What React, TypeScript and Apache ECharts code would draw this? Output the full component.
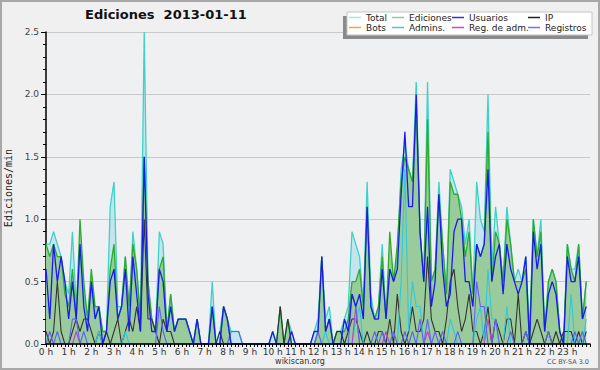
import React, { useEffect, useRef } from 'react';
import * as echarts from 'echarts';

// 10-minute bins, 144 per day (edits per minute)
const total = [
  0.8, 0.8, 0.9, 0.8, 0.7, 0.5,
  0.4, 0.9, 0.3, 0.8, 0.4, 0.2,
  0.5, 0.2, 0.3, 0.1, 0.1, 1.1,
  1.3, 0.3, 0.3, 0.7, 0.2, 0.9,
  0.6, 0.2, 2.5, 0.5, 0.2, 0.1,
  0.9, 0.8, 0.1, 0.4, 0.1, 0.2,
  0.2, 0.2, 0.1, 0.0, 0.2, 0.0,
  0.0, 0.0, 0.5, 0.0, 0.1, 0.3,
  0.2, 0.1, 0.1, 0.1, 0.0, 0.0,
  0.0, 0.0, 0.0, 0.0, 0.0, 0.0,
  0.1, 0.0, 0.3, 0.0, 0.2, 0.1,
  0.0, 0.0, 0.0, 0.0, 0.0, 0.1,
  0.2, 0.7, 0.2, 0.3, 0.0, 0.1,
  0.1, 0.2, 0.3, 0.9, 0.8, 0.7,
  0.3, 1.3, 0.4, 0.2, 0.3, 0.8,
  0.2, 0.6, 0.5, 0.7, 1.4, 1.6,
  1.4, 1.3, 2.1, 0.9, 0.5, 2.1,
  0.5, 0.6, 1.3, 0.8, 0.4, 1.4,
  1.3, 1.2, 1.1, 0.8, 1.0, 0.4,
  1.3, 1.0, 0.9, 2.0, 0.6, 1.1,
  0.8, 0.5, 1.1, 0.8, 0.5, 0.6,
  0.5, 0.7, 0.1, 1.0, 0.7, 1.0,
  0.1, 0.5, 0.6, 0.5, 0.1, 0.0,
  0.8, 0.6, 0.6, 0.8, 0.2, 0.5,
];

const ediciones = [
  0.8, 0.7, 0.8, 0.7, 0.7, 0.4,
  0.3, 0.6, 0.2, 1.0, 0.5, 0.2,
  0.6, 0.3, 0.3, 0.1, 0.1, 0.6,
  0.8, 0.2, 0.3, 0.7, 0.3, 0.8,
  0.6, 0.2, 1.5, 0.5, 0.2, 0.1,
  0.6, 0.7, 0.1, 0.4, 0.1, 0.2,
  0.2, 0.2, 0.1, 0.0, 0.2, 0.0,
  0.0, 0.0, 0.3, 0.0, 0.0, 0.3,
  0.2, 0.0, 0.0, 0.0, 0.0, 0.0,
  0.0, 0.0, 0.0, 0.0, 0.0, 0.0,
  0.0, 0.0, 0.3, 0.0, 0.2, 0.0,
  0.0, 0.0, 0.0, 0.0, 0.0, 0.0,
  0.1, 0.7, 0.1, 0.2, 0.0, 0.1,
  0.1, 0.1, 0.2, 0.5, 0.5, 0.6,
  0.3, 1.1, 0.3, 0.2, 0.3, 0.7,
  0.2, 0.9, 0.5, 0.8, 1.3, 1.5,
  1.4, 1.3, 1.9, 0.9, 0.5, 1.8,
  0.5, 0.6, 1.2, 0.8, 0.4, 1.3,
  1.2, 1.2, 1.0, 0.7, 0.9, 0.4,
  0.8, 0.7, 0.8, 1.7, 0.5, 0.9,
  0.8, 0.5, 1.0, 0.8, 0.5, 0.5,
  0.5, 0.6, 0.0, 1.0, 0.7, 0.9,
  0.1, 0.5, 0.6, 0.5, 0.1, 0.0,
  0.8, 0.6, 0.5, 0.8, 0.2, 0.5,
];

const usuarios = [
  0.6, 0.2, 0.8, 0.5, 0.7, 0.5,
  0.2, 0.5, 0.2, 0.8, 0.3, 0.1,
  0.5, 0.2, 0.3, 0.0, 0.1, 0.5,
  0.6, 0.2, 0.3, 0.6, 0.1, 0.7,
  0.4, 0.1, 1.5, 0.4, 0.1, 0.1,
  0.6, 0.5, 0.1, 0.3, 0.1, 0.2,
  0.2, 0.2, 0.1, 0.0, 0.2, 0.0,
  0.0, 0.0, 0.3, 0.0, 0.0, 0.3,
  0.2, 0.0, 0.0, 0.0, 0.0, 0.0,
  0.0, 0.0, 0.0, 0.0, 0.0, 0.0,
  0.1, 0.0, 0.0, 0.0, 0.0, 0.1,
  0.0, 0.0, 0.0, 0.0, 0.0, 0.1,
  0.1, 0.7, 0.1, 0.2, 0.0, 0.0,
  0.0, 0.2, 0.1, 0.4, 0.3, 0.4,
  0.2, 1.1, 0.3, 0.2, 0.2, 0.6,
  0.2, 0.6, 0.5, 0.6, 1.2, 1.7,
  1.1, 1.1, 2.0, 0.9, 0.5, 1.1,
  0.3, 0.5, 1.2, 0.6, 0.3, 0.4,
  0.9, 1.0, 1.0, 0.5, 0.5, 0.3,
  0.8, 0.7, 0.8, 1.4, 0.5, 0.7,
  0.8, 0.4, 0.8, 0.6, 0.5, 0.4,
  0.5, 0.7, 0.0, 0.9, 0.6, 0.8,
  0.1, 0.4, 0.5, 0.4, 0.1, 0.0,
  0.7, 0.5, 0.5, 0.7, 0.2, 0.3,
];

const ip = [
  0.1, 0.0, 0.1, 0.5, 0.1, 0.0,
  0.0, 0.1, 0.2, 0.1, 0.2, 0.2,
  0.1, 0.0, 0.1, 0.0, 0.1, 0.0,
  0.1, 0.2, 0.0, 0.1, 0.2, 0.1,
  0.3, 0.1, 1.0, 0.2, 0.2, 0.1,
  0.0, 0.2, 0.1, 0.1, 0.0, 0.0,
  0.0, 0.0, 0.0, 0.0, 0.0, 0.0,
  0.0, 0.0, 0.0, 0.0, 0.1, 0.0,
  0.0, 0.0, 0.0, 0.0, 0.0, 0.0,
  0.0, 0.0, 0.0, 0.0, 0.0, 0.0,
  0.0, 0.0, 0.3, 0.0, 0.2, 0.0,
  0.0, 0.0, 0.0, 0.0, 0.0, 0.0,
  0.0, 0.0, 0.0, 0.0, 0.0, 0.1,
  0.1, 0.0, 0.1, 0.2, 0.2, 0.1,
  0.0, 0.1, 0.0, 0.0, 0.1, 0.1,
  0.0, 0.2, 0.0, 0.4, 0.1, 0.0,
  0.1, 0.3, 0.1, 0.1, 0.2, 0.7,
  0.2, 0.1, 0.1, 0.0, 0.2, 0.5,
  0.6, 0.3, 0.1, 0.2, 0.4, 0.1,
  0.1, 0.0, 0.1, 0.3, 0.0, 0.2,
  0.1, 0.0, 0.2, 0.2, 0.0, 0.4,
  0.0, 0.1, 0.0, 0.1, 0.2, 0.1,
  0.0, 0.1, 0.0, 0.1, 0.0, 0.1,
  0.1, 0.1, 0.0, 0.1, 0.0, 0.1,
];

const bots = new Array(144).fill(0);

const admins = [
  0, 0, 0, 0, 0, 0,
  0, 0, 0, 0, 0, 0,
  0, 0, 0.1, 0, 0, 0,
  0, 0, 0, 0.1, 0, 0,
  0, 0, 0, 0, 0, 0,
  0, 0, 0, 0, 0, 0,
  0, 0, 0, 0, 0, 0,
  0, 0, 0, 0, 0, 0,
  0, 0, 0, 0, 0, 0,
  0, 0, 0, 0, 0, 0,
  0, 0, 0, 0, 0, 0,
  0, 0, 0, 0, 0, 0,
  0, 0, 0.1, 0, 0, 0,
  0, 0, 0, 0, 0.2, 0.3,
  0, 0, 0, 0, 0, 0,
  0, 0, 0, 0, 0.5, 1.4,
  0.1, 0.5, 0.3, 0.3, 0, 0,
  0, 0, 0, 0, 0, 0.2,
  0.1, 0, 0, 0, 0, 0,
  0.2, 0.3, 0, 0.6, 0.2, 0.2,
  0, 0, 0.3, 0, 0, 0,
  0, 0, 0, 0, 0, 0,
  0, 0, 0, 0, 0, 0,
  0, 0.4, 0, 0, 0, 0.2,
];

const regAdm = [
  0, 0, 0, 0, 0, 0,
  0, 0, 0.1, 0, 0, 0,
  0, 0, 0, 0, 0, 0,
  0, 0, 0, 0, 0, 0,
  0, 0, 0, 0, 0, 0,
  0, 0, 0, 0, 0, 0,
  0, 0, 0, 0, 0, 0,
  0, 0, 0, 0, 0, 0,
  0, 0, 0, 0, 0, 0,
  0, 0, 0, 0, 0, 0,
  0, 0, 0, 0, 0, 0,
  0, 0, 0, 0, 0, 0,
  0, 0, 0, 0, 0, 0,
  0, 0, 0, 0, 0.3, 0,
  0, 0, 0, 0, 0, 0,
  0.1, 0, 0, 0, 0, 0,
  0, 0, 0, 0, 0, 0.1,
  0, 0, 0, 0, 0, 0,
  0, 0, 0, 0, 0, 0,
  0, 0, 0, 0.2, 0, 0,
  0, 0, 0, 0, 0, 0,
  0, 0, 0, 0, 0, 0,
  0, 0, 0, 0, 0, 0,
  0, 0, 0, 0, 0, 0,
];

const registros = [
  0, 0.1, 0, 0.1, 0, 0,
  0, 0.2, 0.2, 0, 0.1, 0,
  0, 0, 0, 0, 0, 0,
  0, 0, 0, 0, 0, 0,
  0, 0, 0, 0, 0, 0,
  0.3, 0.1, 0, 0, 0, 0,
  0, 0, 0, 0, 0, 0,
  0, 0, 0, 0, 0, 0,
  0, 0.1, 0.1, 0.1, 0, 0,
  0, 0, 0, 0, 0, 0,
  0, 0, 0, 0, 0, 0,
  0, 0, 0, 0, 0, 0,
  0.1, 0, 0, 0, 0, 0,
  0, 0, 0, 0.4, 0.3, 0,
  0, 0, 0, 0.1, 0, 0.1,
  0, 0, 0.1, 0, 0, 0.1,
  0, 0.1, 0, 0.2, 0, 0.2,
  0, 0.1, 0, 0.1, 0, 0,
  0, 0.1, 0, 0, 0, 0,
  0.5, 0.3, 0.3, 0, 0, 0.2,
  0, 0, 0, 0.1, 0, 0,
  0, 0.1, 0, 0, 0, 0,
  0, 0.1, 0, 0, 0, 0,
  0, 0, 0.1, 0, 0.1, 0,
];

const hourTickLabels = Array.from({ length: 24 }, (_, h) => `${h} h`);
const yTickLabels = ['0.0', '0.5', '1.0', '1.5', '2.0', '2.5'];

const BIN_MINUTES = 10;
const toPairs = (arr: number[]) => arr.map((v, i) => [i * BIN_MINUTES, v]);

const FONT = '"DejaVu Sans", Verdana, sans-serif';

export default function App() {
  const ref = useRef<HTMLDivElement>(null);

  useEffect(() => {
    if (!ref.current) return;
    const chart = echarts.init(ref.current, undefined, { renderer: 'svg' });

    const mk = (name: string, data: number[], color: string, width: number, area?: string) => ({
      name,
      type: 'line',
      data: toPairs(data),
      showSymbol: false,
      symbol: 'none',
      silent: true,
      lineStyle: { color, width },
      itemStyle: { color },
      areaStyle: area ? { color: area, opacity: 1 } : undefined,
      emphasis: { disabled: true },
    });

    const legendItems = [
      { name: 'Total', color: '#a8e2ea', x: 349, y: 13 },
      { name: 'Ediciones', color: '#88d088', x: 392, y: 13 },
      { name: 'Usuarios', color: '#3333e6', x: 452, y: 13 },
      { name: 'IP', color: '#222222', x: 528, y: 13 },
      { name: 'Bots', color: '#ffa030', x: 349, y: 23 },
      { name: 'Admins.', color: '#40c8e0', x: 392, y: 23 },
      { name: 'Reg. de adm.', color: '#d040e0', x: 452, y: 23 },
      { name: 'Registros', color: '#7070ff', x: 528, y: 23 },
    ];

    const option: any = {
      animation: false,
      backgroundColor: '#f0f0f0',
      textStyle: { fontFamily: FONT },
      title: {
        text: 'Ediciones  2013-01-11',
        left: 85,
        top: 8,
        padding: 0,
        textStyle: { fontSize: 13, fontWeight: 'bold', fontFamily: FONT, color: '#111' },
      },
      legend: legendItems.map((it) => ({
        show: true,
        left: it.x,
        top: it.y,
        padding: 0,
        itemWidth: 12,
        itemHeight: 1.5,
        icon: 'rect',
        selectedMode: false,
        data: [{ name: it.name, itemStyle: { color: it.color } }],
        textStyle: { fontSize: 9, color: '#222', fontFamily: FONT },
        z: 6,
      })),
      grid: {
        left: 46,
        right: 10,
        top: 32,
        bottom: 26,
        show: true,
        backgroundColor: '#eef0f2',
        borderWidth: 0,
        outerBoundsMode: 'none',
      },
      xAxis: {
        type: 'value',
        min: 0,
        max: 1440,
        interval: 60,
        z: 10,
        axisLine: { show: true, lineStyle: { color: '#000', width: 1.5 } },
        axisTick: { show: true, length: 3, lineStyle: { color: '#000' } },
        minorTick: { show: true, splitNumber: 6, length: 3, lineStyle: { color: '#000' } },
        splitLine: { show: false },
        axisLabel: {
          formatter: (v: number) => hourTickLabels[Math.round(v / 60)] ?? '',
          showMaxLabel: false,
          fontSize: 9,
          lineHeight: 10,
          color: '#333',
          margin: 3,
          fontFamily: FONT,
        },
      },
      yAxis: {
        type: 'value',
        min: 0,
        max: 2.5,
        interval: 0.5,
        name: 'Ediciones/min',
        nameLocation: 'middle',
        nameRotate: 90,
        nameGap: 31,
        nameTextStyle: { fontFamily: '"DejaVu Sans Mono", monospace', fontSize: 10, color: '#222' },
        axisLine: { show: true, lineStyle: { color: '#000', width: 1.5 } },
        axisTick: { show: true, length: 5, lineStyle: { color: '#000' } },
        minorTick: { show: true, splitNumber: 5, length: 3, lineStyle: { color: '#000' } },
        splitLine: { show: true, lineStyle: { color: '#c9c9c9', width: 1 } },
        axisLabel: {
          formatter: (v: number) => yTickLabels[Math.round(v / 0.5)] ?? '',
          fontSize: 9,
          lineHeight: 9,
          color: '#444',
          margin: 7,
          fontFamily: FONT,
        },
      },
      series: [
        mk('Total', total, '#3ed2c6', 1.3, 'rgba(170,222,235,0.6)'),
        mk('Ediciones', ediciones, '#2eaa2e', 1.3, '#9acb9a'),
        mk('IP', ip, '#333333', 1.1),
        mk('Bots', bots, '#ffa030', 1),
        mk('Admins.', admins, '#30c8e0', 1.1),
        mk('Reg. de adm.', regAdm, '#c040d0', 1.1),
        mk('Registros', registros, '#6060f8', 1.1),
        mk('Usuarios', usuarios, '#1a1aee', 1.3),
      ],
      graphic: [
        { type: 'rect', z: 3, shape: { x: 343, y: 16, width: 245, height: 23 }, style: { fill: '#8a8a8a' }, silent: true },
        { type: 'rect', z: 3, shape: { x: 347, y: 12, width: 245, height: 23 }, style: { fill: '#ffffff', stroke: '#c4c4c4', lineWidth: 1 }, silent: true },
        {
          type: 'text', z: 5, x: 300, y: 361,
          style: { text: 'wikiscan.org', align: 'center', verticalAlign: 'middle', textAlign: 'center', textVerticalAlign: 'middle', font: `8px ${FONT}`, fill: '#333' },
          silent: true,
        },
        {
          type: 'text', z: 5, x: 589, y: 362,
          style: { text: 'CC BY-SA 3.0', align: 'right', verticalAlign: 'middle', textAlign: 'right', textVerticalAlign: 'middle', font: `6.5px ${FONT}`, fill: '#555' },
          silent: true,
        },
        { type: 'rect', z: 20, shape: { x: 1, y: 1, width: 598, height: 368 }, style: { fill: 'none', stroke: '#a8a8a8', lineWidth: 2 }, silent: true },
      ],
    };

    chart.setOption(option);
    return () => chart.dispose();
  }, []);

  return (
    <div style={{ position: 'fixed', left: 0, top: 0, width: 600, height: 370, background: '#f0f0f0' }}>
      <div ref={ref} style={{ width: 600, height: 370 }} />
    </div>
  );
}
